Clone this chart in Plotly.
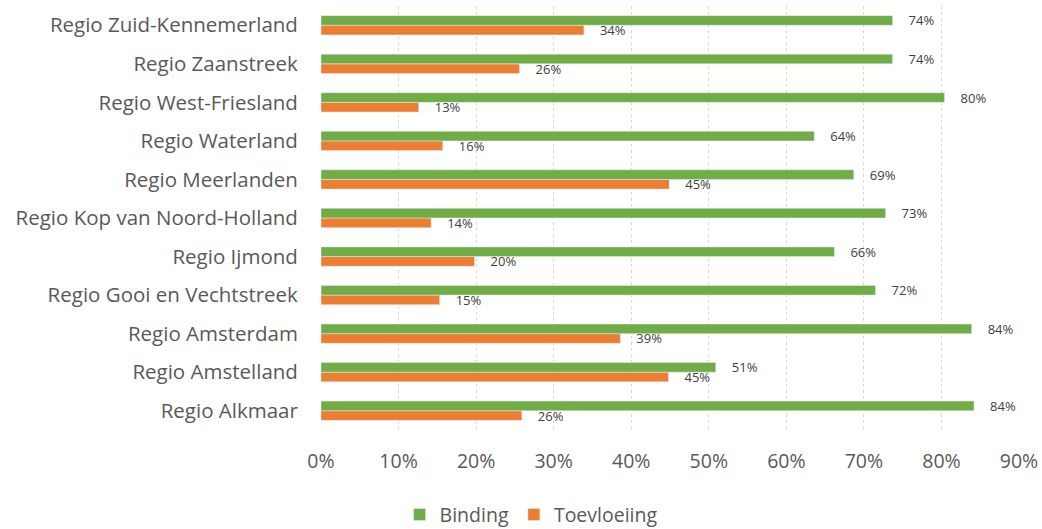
import plotly.graph_objects as go

categories = [
    "Regio Alkmaar", "Regio Amstelland", "Regio Amsterdam",
    "Regio Gooi en Vechtstreek", "Regio Ijmond", "Regio Kop van Noord-Holland",
    "Regio Meerlanden", "Regio Waterland", "Regio West-Friesland",
    "Regio Zaanstreek", "Regio Zuid-Kennemerland",
]
binding = [0.842, 0.509, 0.839, 0.715, 0.662, 0.728, 0.687, 0.636, 0.804, 0.737, 0.737]
toevloeiing = [0.259, 0.448, 0.386, 0.153, 0.198, 0.142, 0.449, 0.157, 0.126, 0.256, 0.339]
x_ticks = [0, 0.1, 0.2, 0.3, 0.4, 0.5, 0.6, 0.7, 0.8, 0.9]

FONT = "Open Sans"
GREEN = "#70AD47"
ORANGE = "#ED7D31"

fig = go.Figure()
fig.add_trace(go.Bar(
    y=categories, x=toevloeiing, name="Toevloeiing", orientation="h",
    marker=dict(color=ORANGE), texttemplate="\u2003%{x:.0%}",
    textposition="outside", constraintext="none", cliponaxis=False,
    textfont=dict(family=FONT, size=13, color="#404040"), legendrank=2,
))
fig.add_trace(go.Bar(
    y=categories, x=binding, name="Binding", orientation="h",
    marker=dict(color=GREEN), texttemplate="\u2003%{x:.0%}",
    textposition="outside", constraintext="none", cliponaxis=False,
    textfont=dict(family=FONT, size=13, color="#404040"), legendrank=1,
))

fig.update_layout(
    width=1042, height=529,
    margin=dict(l=321, r=23, t=6, b=99, autoexpand=False),
    paper_bgcolor="white", plot_bgcolor="white",
    barmode="group", bargap=0.5, bargroupgap=0,
    font=dict(family=FONT, color="#595959"),
    legend=dict(orientation="h", x=0.301, xanchor="center",
                y=-0.2, yanchor="middle",
                font=dict(family=FONT, size=19.5, color="#595959")),
    showlegend=True,
)
fig.update_xaxes(
    range=[0, 0.9], tickvals=x_ticks, tickformat=".0%",
    showgrid=True, gridcolor="#D9D9D9", griddash="dot", gridwidth=1,
    zeroline=False, showline=False, automargin=False,
    ticks="outside", ticklen=14, tickcolor="rgba(0,0,0,0)",
    tickfont=dict(family=FONT, size=19.5, color="#595959"),
)
fig.update_yaxes(
    showgrid=False, zeroline=False, showline=False, automargin=False,
    ticks="outside", ticklen=18, tickcolor="rgba(0,0,0,0)",
    tickfont=dict(family=FONT, size=20.5, color="#595959"),
)

fig.write_html(
    "out.html",
    config={"displayModeBar": False},
    post_script="document.body.style.margin='0';document.body.style.padding='0';",
)
